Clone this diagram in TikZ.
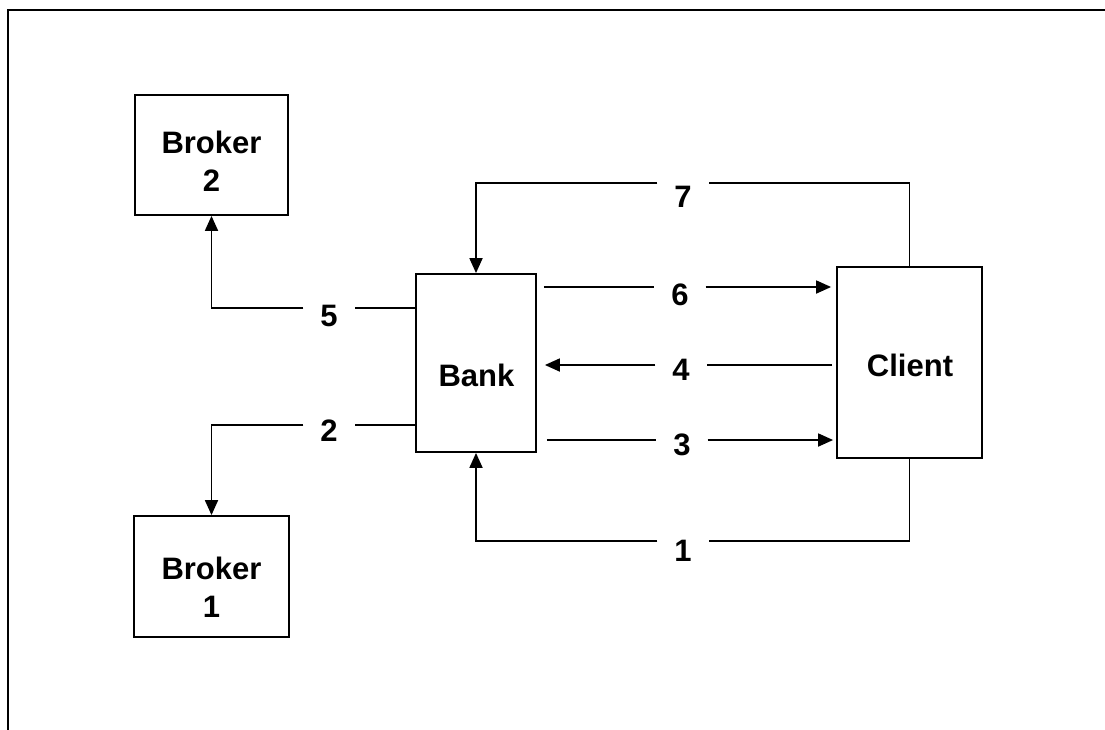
\documentclass[tikz,border=0pt]{standalone}
\usepackage{fontspec}
\setmainfont{Liberation Sans}
\usetikzlibrary{arrows.meta}

\begin{document}
\begin{tikzpicture}[x=1pt, y=-1pt, line width=1.8pt,
        box/.style={draw, inner sep=0pt},
        boxtext/.style={font=\fontsize{31}{38}\selectfont\bfseries, align=center, inner sep=0pt},
        num/.style={font=\fontsize{31}{38}\selectfont\bfseries, inner xsep=16pt, inner ysep=0pt},
        arr/.style={-{Triangle[length=15pt, width=13pt]}}]
            \useasboundingbox (0,0) rectangle (1105,729);
            \draw (8,740) -- (8,10) -- (1120,10);

            % boxes
            \node[box, minimum width=153pt, minimum height=120pt] (broker2) at (211.5,155) {};
            \node[box, minimum width=155pt, minimum height=121pt] (broker1) at (211.5,576.5) {};
            \node[box, minimum width=120pt, minimum height=178pt] (bank) at (476,363) {};
            \node[box, minimum width=145pt, minimum height=191pt] (client) at (909.5,362.5) {};
            \node[boxtext] (broker2-t) at (211.5,161) {Broker\\2};
            \node[boxtext] (broker1-t) at (211.5,587) {Broker\\1};
            \node[boxtext] (bank-t) at (476.5,375) {Bank};
            \node[boxtext] (client-t) at (910,365.5) {Client};

            % numbers and line levels
            \node[num] (n7) at (683,197) {7};
            \node[num] (n6) at (680,295) {6};
            \node[num] (n4) at (681,370) {4};
            \node[num] (n3) at (682,445) {3};
            \node[num] (n1) at (683,551) {1};
            \node[num] (n5) at (329,316) {5};
            \node[num] (n2) at (329,431) {2};
            \coordinate (l7) at (683,183);
            \coordinate (l6) at (680,287);
            \coordinate (l4) at (681,365);
            \coordinate (l3) at (682,440);
            \coordinate (l1) at (683,541);
            \coordinate (l5) at (329,308);
            \coordinate (l2) at (329,425);

            % connectors
            \draw (client.north) |- (l7 -| n7.east);
            \draw[arr] (l7 -| n7.west) -| (bank.north);
            \draw[shorten <=7pt] (l6 -| bank.east) -- (l6 -| n6.west);
            \draw[arr, shorten >=5pt] (l6 -| n6.east) -- (l6 -| client.west);
            \draw[shorten <=4pt] (l4 -| client.west) -- (l4 -| n4.east);
            \draw[arr, shorten >=8pt] (l4 -| n4.west) -- (l4 -| bank.east);
            \draw[shorten <=10pt] (l3 -| bank.east) -- (l3 -| n3.west);
            \draw[arr, shorten >=3pt] (l3 -| n3.east) -- (l3 -| client.west);
            \draw (client.south) |- (l1 -| n1.east);
            \draw[arr] (l1 -| n1.west) -| (bank.south);
            \draw (l5 -| bank.west) -- (l5 -| n5.east);
            \draw[arr] (l5 -| n5.west) -| (broker2.south);
            \draw (l2 -| bank.west) -- (l2 -| n2.east);
            \draw[arr] (l2 -| n2.west) -| (broker1.north);
        \end{tikzpicture}
\end{document}
